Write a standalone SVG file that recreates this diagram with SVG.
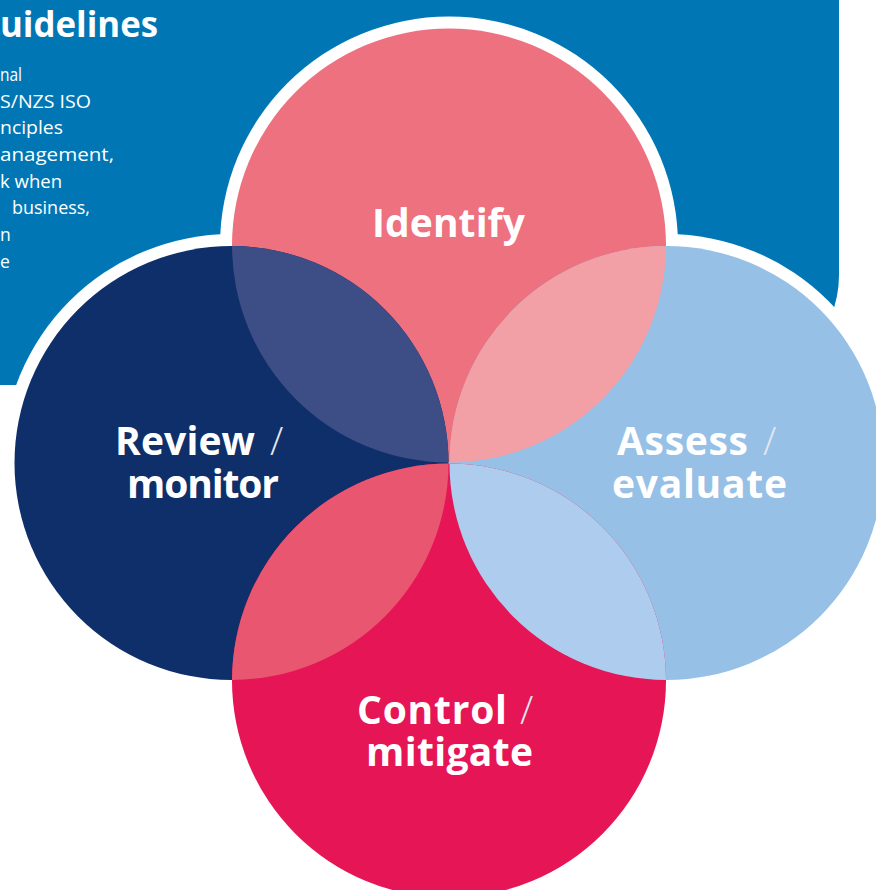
<svg xmlns="http://www.w3.org/2000/svg" width="876" height="890" viewBox="0 0 876 890">
  <style>
    .panel { fill: #0077b4; }
    text { font-variant-ligatures: none; }
    .title { font-family: "Open Sans", "Liberation Sans", sans-serif; font-weight: 700; font-size: 35px; fill: #ffffff; }
    .body { font-family: "Open Sans", "Liberation Sans", sans-serif; font-weight: 400; font-size: 17.5px; fill: #ffffff; }
    .ring { fill: #ffffff; }
    .label { font-family: "Open Sans", "Liberation Sans", sans-serif; font-weight: 700; font-size: 39px; fill: #ffffff; }
    .mid { text-anchor: middle; }
    .slash { font-family: "Open Sans", "Liberation Sans", sans-serif; font-weight: 300; font-size: 39px; fill: #e4e6ee; }
  </style>
  <defs>
    <clipPath id="clip-identify"><circle cx="449" cy="245.5" r="217"/></clipPath>
    <clipPath id="clip-control"><circle cx="449" cy="680.5" r="217"/></clipPath>
  </defs>

  <!-- background panel with text -->
  <g id="panel">
    <rect class="panel" x="-200" y="-200" width="1039" height="585" rx="110" ry="110"/>
    <text class="title" x="0" y="37" textLength="158" lengthAdjust="spacingAndGlyphs">uidelines</text>
    <text class="body" x="0" y="81" textLength="22" lengthAdjust="spacingAndGlyphs">nal</text>
    <text class="body" x="0" y="108" textLength="91" lengthAdjust="spacingAndGlyphs">S/NZS ISO</text>
    <text class="body" x="0" y="134" textLength="63" lengthAdjust="spacingAndGlyphs">nciples</text>
    <text class="body" x="0" y="161" textLength="114" lengthAdjust="spacingAndGlyphs">anagement,</text>
    <text class="body" x="0" y="188" textLength="62" lengthAdjust="spacingAndGlyphs">k when</text>
    <text class="body" x="12" y="214" textLength="78" lengthAdjust="spacingAndGlyphs">business,</text>
    <text class="body" x="0" y="241">n</text>
    <text class="body" x="0" y="268">e</text>
  </g>

  <!-- white outline around the four circles -->
  <g id="outline">
    <circle class="ring" cx="449" cy="245.5" r="229"/>
    <circle class="ring" cx="231.5" cy="463" r="229"/>
    <circle class="ring" cx="666.5" cy="463" r="229"/>
    <circle class="ring" cx="449" cy="680.5" r="229"/>
  </g>

  <g id="identify">
    <circle cx="449" cy="245.5" r="217" fill="#ee7180"/>
  </g>
  <g id="review">
    <circle cx="231.5" cy="463" r="217" fill="#0f2f6b"/>
  </g>
  <g id="assess">
    <circle cx="666.5" cy="463" r="217" fill="#97c0e6"/>
  </g>
  <g id="control">
    <circle cx="449" cy="680.5" r="217" fill="#e61556"/>
  </g>

  <!-- overlap lenses -->
  <g id="overlaps">
    <circle cx="231.5" cy="463" r="217" fill="#3d4d85" clip-path="url(#clip-identify)"/>
    <circle cx="666.5" cy="463" r="217" fill="#f2a0a6" clip-path="url(#clip-identify)"/>
    <circle cx="666.5" cy="463" r="217" fill="#aecdee" clip-path="url(#clip-control)"/>
    <circle cx="231.5" cy="463" r="217" fill="#e9566f" clip-path="url(#clip-control)"/>
  </g>

  <!-- labels -->
  <g id="labels">
    <text class="label" x="372" y="237" textLength="153" lengthAdjust="spacing">Identify</text>
    <text class="label" x="115" y="455" textLength="140" lengthAdjust="spacing">Review</text>
    <text class="slash" x="270" y="455">/</text>
    <text class="label" x="127" y="498" textLength="152" lengthAdjust="spacing">monitor</text>
    <text class="label" x="617" y="455" textLength="131" lengthAdjust="spacing">Assess</text>
    <text class="slash" x="763" y="455">/</text>
    <text class="label" x="612" y="498" textLength="175" lengthAdjust="spacing">evaluate</text>
    <text class="label" x="357" y="724" textLength="150" lengthAdjust="spacing">Control</text>
    <text class="slash" x="520" y="724">/</text>
    <text class="label" x="366" y="766" textLength="167" lengthAdjust="spacing">mitigate</text>
  </g>
</svg>
